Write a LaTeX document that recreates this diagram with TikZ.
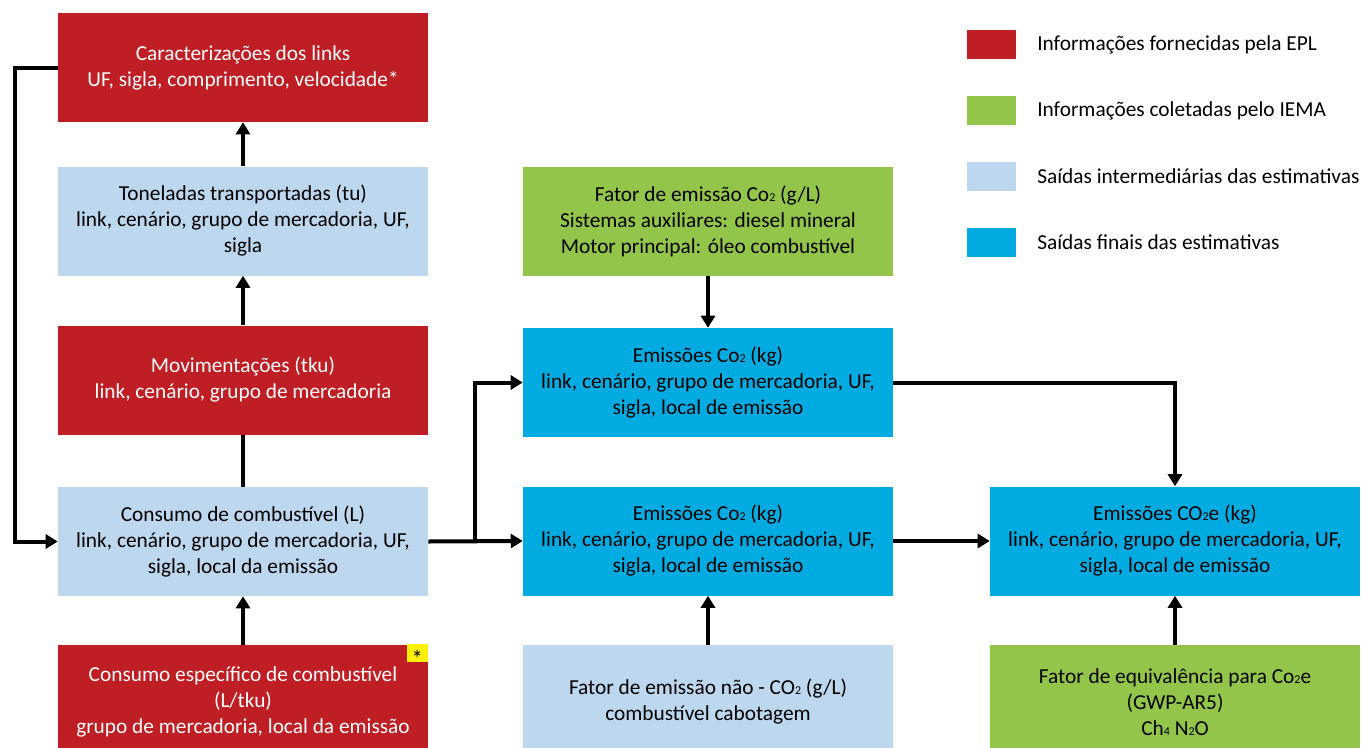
\documentclass[tikz,border=0pt]{standalone}
\usepackage{fontspec}
\setmainfont{Carlito}
\usetikzlibrary{arrows.meta}
\definecolor{epl}{HTML}{BE1E24}
\definecolor{iema}{HTML}{92C54A}
\definecolor{inter}{HTML}{BDD7EE}
\definecolor{final}{HTML}{00ABE2}
\definecolor{aster}{HTML}{FFF200}
\newcommand{\ind}[1]{{\fontsize{9}{9}\selectfont #1}}
\begin{document}
\begin{tikzpicture}[x=0.75pt, y=-0.75pt,
	caixa/.style={rectangle, minimum width=277.5pt, minimum height=81.75pt, inner sep=0pt, align=center, font=\fontsize{16}{19.5}\selectfont},
	baixa/.style={caixa, minimum height=85.5pt},
	seta/.style={line width=3pt, -{Triangle[width=10.5pt, length=9pt]}},
	linha/.style={line width=3pt},
	legenda/.style={rectangle, minimum width=36.75pt, minimum height=21.75pt, inner sep=0pt}]
	\clip (0,0) rectangle (1361,747);
	
	\node[caixa, fill=epl, text=white] (cara) at (243,67.5){Caracterizações dos links\\UF, sigla, comprimento, velocidade*};
	\node[caixa, fill=inter] (ton) at (243,221){Toneladas transportadas (tu)\\link, cenário, grupo de mercadoria, UF,\\sigla};
	\node[caixa, fill=epl, text=white] (mov) at (243,380){Movimentações (tku)\\link, cenário, grupo de mercadoria};
	\node[caixa, fill=inter] (cons) at (243,541.5){Consumo de combustível (L)\\link, cenário, grupo de mercadoria, UF,\\sigla, local da emissão};
	\node[baixa, fill=epl, text=white] (esp) at (243,702){Consumo específico de combustível\\(L/tku)\\grupo de mercadoria, local da emissão};
	\node[rectangle, fill=aster, minimum width=15.75pt, minimum height=13.5pt, inner sep=0pt, anchor=north east] (ast) at (428,644){};
	\node[font=\fontsize{17}{17}\selectfont, inner sep=0pt] (astt) at ([yshift=-4pt]ast.center){*};
	
	\node[caixa, fill=iema] (fat) at (708,221){Fator de emissão Co\ind{2} (g/L)\\Sistemas auxiliares: diesel mineral\\Motor principal: óleo combustível};
	\node[caixa, fill=final] (em1) at (708,382.5){Emissões Co\ind{2} (kg)\\link, cenário, grupo de mercadoria, UF,\\sigla, local de emissão};
	\node[caixa, fill=final] (em2) at (708,541){Emissões Co\ind{2} (kg)\\link, cenário, grupo de mercadoria, UF,\\sigla, local de emissão};
	\node[baixa, fill=inter] (nao) at (708,702){Fator de emissão não - CO\ind{2} (g/L)\\combustível cabotagem};
	
	\node[caixa, fill=final] (co2e) at (1175,541){Emissões CO\ind{2}e (kg)\\link, cenário, grupo de mercadoria, UF,\\sigla, local de emissão};
	\node[baixa, fill=iema] (eq) at (1175,702){Fator de equivalência para Co\ind{2}e\\(GWP-AR5)\\Ch\ind{4} N\ind{2}O};
	
	\foreach \nome/\cor/\y/\texto in {lepl/epl/44.5/Informações fornecidas pela EPL, liema/iema/110.5/Informações coletadas pelo IEMA, linter/inter/176.5/Saídas intermediárias das estimativas, lfinal/final/242.5/Saídas finais das estimativas}{
		\node[legenda, fill=\cor] (\nome) at (991.5,\y){};
		\node[anchor=west, inner sep=0pt, font=\fontsize{16}{19.5}\selectfont] (t\nome) at (1037,\y){\texto};
	}
	
	\draw[seta] (ton) -- (cara);
	\draw[seta] (mov) -- (ton);
	\draw[linha] (mov) -- (cons);
	\draw[seta] (esp) -- (cons);
	\draw[seta] (cara.west) -- ++(-43,0) |- (cons.west);
	\draw[seta] (cons.east) -- (em2.west);
	\coordinate (ramo) at (475,541.5);
	\draw[seta] (ramo) |- (em1.west);
	\draw[seta] (fat) -- (em1);
	\draw[seta] (nao) -- (em2);
	\draw[seta] (em1.east) -| (co2e.north);
	\draw[seta] (em2) -- (co2e);
	\draw[seta] (eq) -- (co2e);
\end{tikzpicture}
\end{document}
